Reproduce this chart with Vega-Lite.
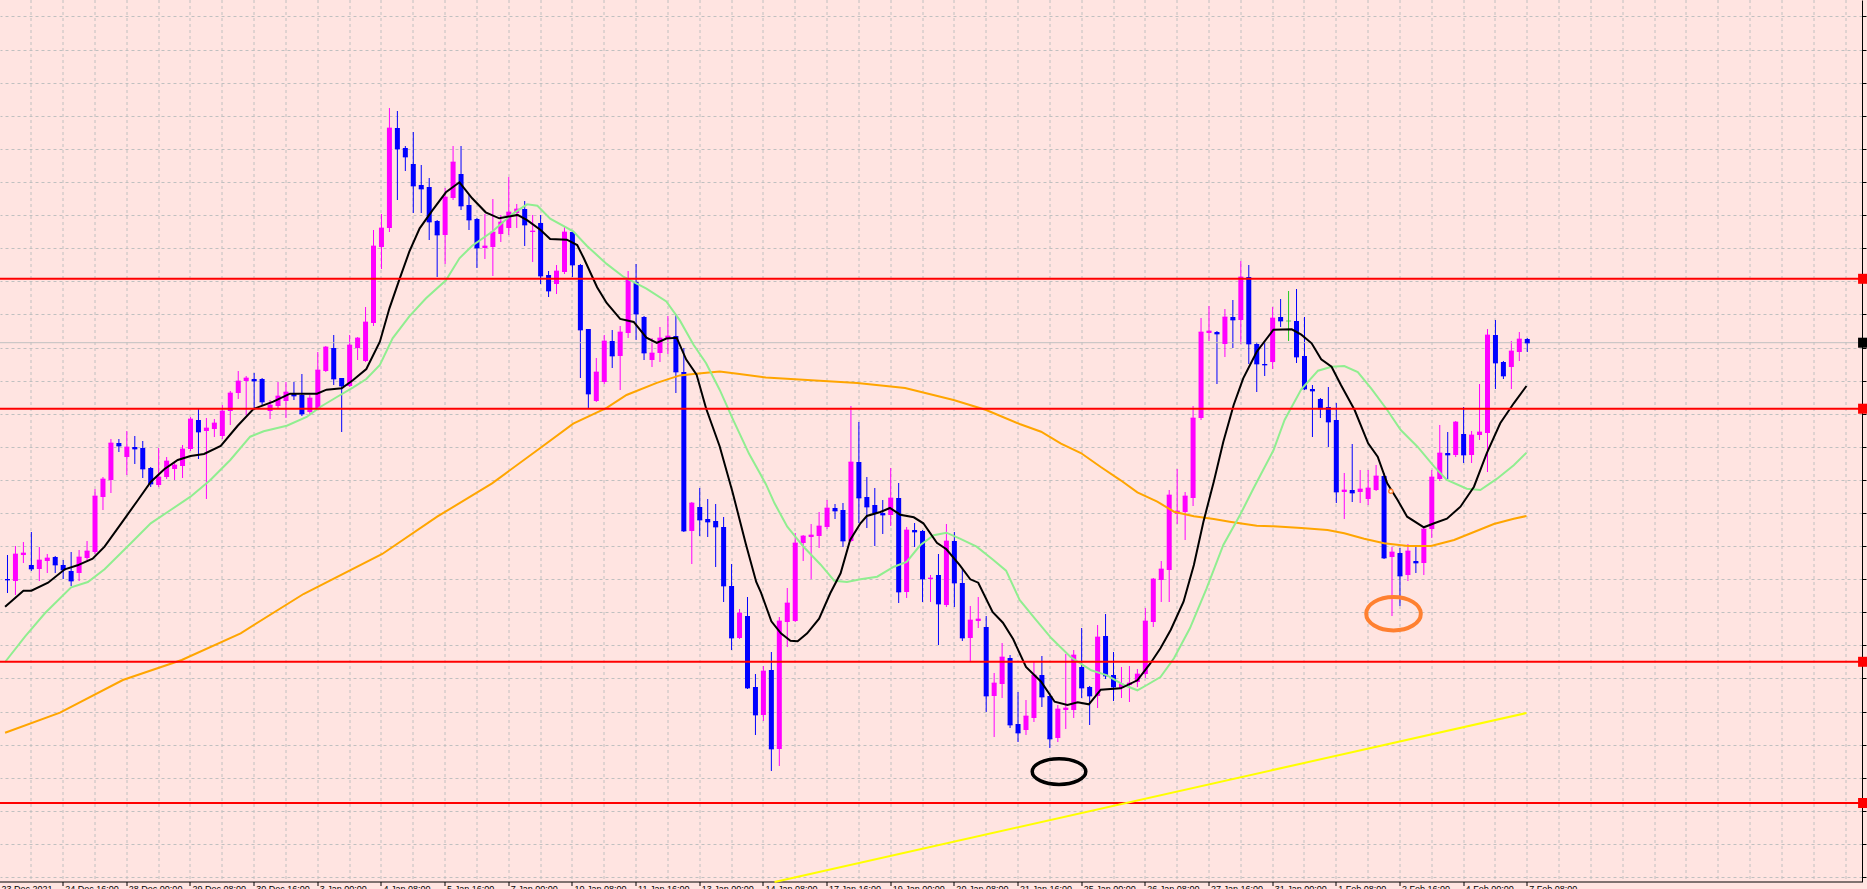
{
"$schema": "https://vega.github.io/schema/vega-lite/v6.json",
"width": 1862, "height": 882,
"autosize": {"type": "none"},
"padding": {"left": 0, "top": 0, "right": 5, "bottom": 7},
"background": "#FFE4E1",
"config": {"view": {"stroke": null}},
"datasets": {
"candles": [
{"i":1,"o":1.3310,"h":1.3334,"l":1.3296,"c":1.3309},
{"i":2,"o":1.3308,"h":1.3343,"l":1.3294,"c":1.3335},
{"i":3,"o":1.3334,"h":1.3347,"l":1.3326,"c":1.3336},
{"i":4,"o":1.3324,"h":1.3357,"l":1.3318,"c":1.3320},
{"i":5,"o":1.3320,"h":1.3342,"l":1.3308,"c":1.3329},
{"i":6,"o":1.3328,"h":1.3335,"l":1.3316,"c":1.3331},
{"i":7,"o":1.3332,"h":1.3333,"l":1.3316,"c":1.3324},
{"i":8,"o":1.3324,"h":1.3329,"l":1.3310,"c":1.3319},
{"i":9,"o":1.3318,"h":1.3337,"l":1.3303,"c":1.3308},
{"i":10,"o":1.3316,"h":1.3339,"l":1.3308,"c":1.3332},
{"i":11,"o":1.3331,"h":1.3348,"l":1.3329,"c":1.3338},
{"i":12,"o":1.3337,"h":1.3400,"l":1.3335,"c":1.3393},
{"i":13,"o":1.3392,"h":1.3412,"l":1.3379,"c":1.3410},
{"i":14,"o":1.3409,"h":1.3450,"l":1.3396,"c":1.3446},
{"i":15,"o":1.3446,"h":1.3450,"l":1.3437,"c":1.3443},
{"i":16,"o":1.3432,"h":1.3458,"l":1.3414,"c":1.3442},
{"i":17,"o":1.3442,"h":1.3453,"l":1.3425,"c":1.3440},
{"i":18,"o":1.3441,"h":1.3448,"l":1.3411,"c":1.3420},
{"i":19,"o":1.3421,"h":1.3422,"l":1.3402,"c":1.3405},
{"i":20,"o":1.3404,"h":1.3441,"l":1.3402,"c":1.3412},
{"i":21,"o":1.3412,"h":1.3432,"l":1.3410,"c":1.3428},
{"i":22,"o":1.3420,"h":1.3428,"l":1.3409,"c":1.3424},
{"i":23,"o":1.3423,"h":1.3444,"l":1.3411,"c":1.3440},
{"i":24,"o":1.3440,"h":1.3472,"l":1.3438,"c":1.3470},
{"i":25,"o":1.3469,"h":1.3480,"l":1.3430,"c":1.3457},
{"i":26,"o":1.3458,"h":1.3471,"l":1.3390,"c":1.3461},
{"i":27,"o":1.3460,"h":1.3470,"l":1.3452,"c":1.3466},
{"i":28,"o":1.3453,"h":1.3484,"l":1.3450,"c":1.3478},
{"i":29,"o":1.3478,"h":1.3498,"l":1.3464,"c":1.3496},
{"i":30,"o":1.3496,"h":1.3518,"l":1.3490,"c":1.3508},
{"i":31,"o":1.3508,"h":1.3513,"l":1.3474,"c":1.3511},
{"i":32,"o":1.3510,"h":1.3516,"l":1.3479,"c":1.3508},
{"i":33,"o":1.3510,"h":1.3511,"l":1.3484,"c":1.3487},
{"i":34,"o":1.3478,"h":1.3489,"l":1.3470,"c":1.3484},
{"i":35,"o":1.3483,"h":1.3507,"l":1.3481,"c":1.3493},
{"i":36,"o":1.3488,"h":1.3507,"l":1.3471,"c":1.3497},
{"i":37,"o":1.3495,"h":1.3507,"l":1.3489,"c":1.3493},
{"i":38,"o":1.3494,"h":1.3515,"l":1.3473,"c":1.3475},
{"i":39,"o":1.3477,"h":1.3494,"l":1.3475,"c":1.3491},
{"i":40,"o":1.3481,"h":1.3537,"l":1.3480,"c":1.3519},
{"i":41,"o":1.3518,"h":1.3543,"l":1.3517,"c":1.3542},
{"i":42,"o":1.3541,"h":1.3554,"l":1.3504,"c":1.3510},
{"i":43,"o":1.3511,"h":1.3511,"l":1.3457,"c":1.3503},
{"i":44,"o":1.3503,"h":1.3554,"l":1.3502,"c":1.3544},
{"i":45,"o":1.3541,"h":1.3552,"l":1.3529,"c":1.3551},
{"i":46,"o":1.3528,"h":1.3582,"l":1.3527,"c":1.3567},
{"i":47,"o":1.3566,"h":1.3659,"l":1.3563,"c":1.3643},
{"i":48,"o":1.3642,"h":1.3675,"l":1.3620,"c":1.3661},
{"i":49,"o":1.3661,"h":1.3781,"l":1.3657,"c":1.3761},
{"i":50,"o":1.3761,"h":1.3778,"l":1.3689,"c":1.3740},
{"i":51,"o":1.3741,"h":1.3743,"l":1.3718,"c":1.3732},
{"i":52,"o":1.3725,"h":1.3757,"l":1.3676,"c":1.3703},
{"i":53,"o":1.3704,"h":1.3724,"l":1.3676,"c":1.3700},
{"i":54,"o":1.3702,"h":1.3711,"l":1.3649,"c":1.3667},
{"i":55,"o":1.3668,"h":1.3669,"l":1.3612,"c":1.3654},
{"i":56,"o":1.3654,"h":1.3701,"l":1.3625,"c":1.3692},
{"i":57,"o":1.3691,"h":1.3743,"l":1.3689,"c":1.3727},
{"i":58,"o":1.3715,"h":1.3743,"l":1.3679,"c":1.3683},
{"i":59,"o":1.3684,"h":1.3694,"l":1.3659,"c":1.3669},
{"i":60,"o":1.3670,"h":1.3671,"l":1.3621,"c":1.3641},
{"i":61,"o":1.3641,"h":1.3675,"l":1.3630,"c":1.3643},
{"i":62,"o":1.3642,"h":1.3690,"l":1.3613,"c":1.3657},
{"i":63,"o":1.3655,"h":1.3674,"l":1.3647,"c":1.3667},
{"i":64,"o":1.3661,"h":1.3712,"l":1.3654,"c":1.3677},
{"i":65,"o":1.3676,"h":1.3685,"l":1.3661,"c":1.3680},
{"i":66,"o":1.3680,"h":1.3688,"l":1.3643,"c":1.3664},
{"i":67,"o":1.3657,"h":1.3674,"l":1.3627,"c":1.3658},
{"i":68,"o":1.3666,"h":1.3674,"l":1.3605,"c":1.3613},
{"i":69,"o":1.3614,"h":1.3618,"l":1.3592,"c":1.3598},
{"i":70,"o":1.3605,"h":1.3624,"l":1.3595,"c":1.3618},
{"i":71,"o":1.3617,"h":1.3663,"l":1.3615,"c":1.3657},
{"i":72,"o":1.3657,"h":1.3658,"l":1.3612,"c":1.3624},
{"i":73,"o":1.3624,"h":1.3625,"l":1.3511,"c":1.3559},
{"i":74,"o":1.3560,"h":1.3560,"l":1.3481,"c":1.3495},
{"i":75,"o":1.3488,"h":1.3531,"l":1.3487,"c":1.3517},
{"i":76,"o":1.3507,"h":1.3554,"l":1.3505,"c":1.3548},
{"i":77,"o":1.3548,"h":1.3559,"l":1.3521,"c":1.3533},
{"i":78,"o":1.3533,"h":1.3563,"l":1.3499,"c":1.3557},
{"i":79,"o":1.3556,"h":1.3618,"l":1.3551,"c":1.3609},
{"i":80,"o":1.3607,"h":1.3625,"l":1.3549,"c":1.3575},
{"i":81,"o":1.3572,"h":1.3573,"l":1.3529,"c":1.3536},
{"i":82,"o":1.3529,"h":1.3551,"l":1.3522,"c":1.3536},
{"i":83,"o":1.3536,"h":1.3562,"l":1.3527,"c":1.3551},
{"i":84,"o":1.3551,"h":1.3573,"l":1.3535,"c":1.3553},
{"i":85,"o":1.3553,"h":1.3575,"l":1.3496,"c":1.3517},
{"i":86,"o":1.3517,"h":1.3541,"l":1.3357,"c":1.3358},
{"i":87,"o":1.3358,"h":1.3387,"l":1.3325,"c":1.3386},
{"i":88,"o":1.3382,"h":1.3401,"l":1.3353,"c":1.3369},
{"i":89,"o":1.3370,"h":1.3390,"l":1.3352,"c":1.3367},
{"i":90,"o":1.3368,"h":1.3385,"l":1.3322,"c":1.3362},
{"i":91,"o":1.3362,"h":1.3372,"l":1.3287,"c":1.3303},
{"i":92,"o":1.3303,"h":1.3325,"l":1.3239,"c":1.3251},
{"i":93,"o":1.3251,"h":1.3280,"l":1.3250,"c":1.3276},
{"i":94,"o":1.3273,"h":1.3292,"l":1.3200,"c":1.3201},
{"i":95,"o":1.3202,"h":1.3215,"l":1.3154,"c":1.3174},
{"i":96,"o":1.3174,"h":1.3223,"l":1.3168,"c":1.3218},
{"i":97,"o":1.3219,"h":1.3237,"l":1.3118,"c":1.3140},
{"i":98,"o":1.3140,"h":1.3272,"l":1.3123,"c":1.3268},
{"i":99,"o":1.3267,"h":1.3301,"l":1.3242,"c":1.3286},
{"i":100,"o":1.3268,"h":1.3356,"l":1.3267,"c":1.3346},
{"i":101,"o":1.3346,"h":1.3354,"l":1.3328,"c":1.3353},
{"i":102,"o":1.3352,"h":1.3365,"l":1.3310,"c":1.3354},
{"i":103,"o":1.3353,"h":1.3377,"l":1.3341,"c":1.3363},
{"i":104,"o":1.3362,"h":1.3389,"l":1.3360,"c":1.3381},
{"i":105,"o":1.3381,"h":1.3385,"l":1.3370,"c":1.3378},
{"i":106,"o":1.3379,"h":1.3386,"l":1.3342,"c":1.3348},
{"i":107,"o":1.3348,"h":1.3483,"l":1.3347,"c":1.3427},
{"i":108,"o":1.3427,"h":1.3467,"l":1.3366,"c":1.3391},
{"i":109,"o":1.3392,"h":1.3412,"l":1.3361,"c":1.3382},
{"i":110,"o":1.3384,"h":1.3401,"l":1.3343,"c":1.3376},
{"i":111,"o":1.3376,"h":1.3389,"l":1.3355,"c":1.3374},
{"i":112,"o":1.3374,"h":1.3421,"l":1.3363,"c":1.3391},
{"i":113,"o":1.3391,"h":1.3406,"l":1.3286,"c":1.3297},
{"i":114,"o":1.3297,"h":1.3362,"l":1.3291,"c":1.3359},
{"i":115,"o":1.3359,"h":1.3366,"l":1.3342,"c":1.3357},
{"i":116,"o":1.3358,"h":1.3359,"l":1.3287,"c":1.3310},
{"i":117,"o":1.3310,"h":1.3314,"l":1.3287,"c":1.3311},
{"i":118,"o":1.3314,"h":1.3335,"l":1.3244,"c":1.3285},
{"i":119,"o":1.3284,"h":1.3365,"l":1.3282,"c":1.3348},
{"i":120,"o":1.3348,"h":1.3357,"l":1.3282,"c":1.3306},
{"i":121,"o":1.3306,"h":1.3320,"l":1.3248,"c":1.3251},
{"i":122,"o":1.3251,"h":1.3283,"l":1.3228,"c":1.3269},
{"i":123,"o":1.3268,"h":1.3292,"l":1.3261,"c":1.3270},
{"i":124,"o":1.3262,"h":1.3273,"l":1.3177,"c":1.3193},
{"i":125,"o":1.3193,"h":1.3216,"l":1.3152,"c":1.3206},
{"i":126,"o":1.3205,"h":1.3246,"l":1.3191,"c":1.3232},
{"i":127,"o":1.3231,"h":1.3234,"l":1.3161,"c":1.3164},
{"i":128,"o":1.3165,"h":1.3197,"l":1.3147,"c":1.3156},
{"i":129,"o":1.3159,"h":1.3189,"l":1.3154,"c":1.3173},
{"i":130,"o":1.3171,"h":1.3227,"l":1.3167,"c":1.3214},
{"i":131,"o":1.3214,"h":1.3233,"l":1.3182,"c":1.3192},
{"i":132,"o":1.3193,"h":1.3196,"l":1.3141,"c":1.3150},
{"i":133,"o":1.3151,"h":1.3184,"l":1.3147,"c":1.3180},
{"i":134,"o":1.3179,"h":1.3235,"l":1.3160,"c":1.3181},
{"i":135,"o":1.3179,"h":1.3239,"l":1.3171,"c":1.3234},
{"i":136,"o":1.3222,"h":1.3261,"l":1.3191,"c":1.3201},
{"i":137,"o":1.3202,"h":1.3203,"l":1.3164,"c":1.3193},
{"i":138,"o":1.3193,"h":1.3264,"l":1.3181,"c":1.3252},
{"i":139,"o":1.3253,"h":1.3275,"l":1.3210,"c":1.3213},
{"i":140,"o":1.3214,"h":1.3237,"l":1.3188,"c":1.3202},
{"i":141,"o":1.3201,"h":1.3222,"l":1.3191,"c":1.3205},
{"i":142,"o":1.3204,"h":1.3223,"l":1.3187,"c":1.3206},
{"i":143,"o":1.3207,"h":1.3220,"l":1.3202,"c":1.3215},
{"i":144,"o":1.3215,"h":1.3281,"l":1.3211,"c":1.3268},
{"i":145,"o":1.3267,"h":1.3311,"l":1.3262,"c":1.3310},
{"i":146,"o":1.3309,"h":1.3328,"l":1.3287,"c":1.3320},
{"i":147,"o":1.3319,"h":1.3399,"l":1.3287,"c":1.3394},
{"i":148,"o":1.3375,"h":1.3420,"l":1.3365,"c":1.3378},
{"i":149,"o":1.3377,"h":1.3397,"l":1.3349,"c":1.3393},
{"i":150,"o":1.3391,"h":1.3483,"l":1.3383,"c":1.3471},
{"i":151,"o":1.3471,"h":1.3571,"l":1.3469,"c":1.3557},
{"i":152,"o":1.3556,"h":1.3583,"l":1.3548,"c":1.3558},
{"i":153,"o":1.3557,"h":1.3558,"l":1.3505,"c":1.3555},
{"i":154,"o":1.3545,"h":1.3580,"l":1.3532,"c":1.3572},
{"i":155,"o":1.3572,"h":1.3589,"l":1.3541,"c":1.3569},
{"i":156,"o":1.3569,"h":1.3628,"l":1.3545,"c":1.3612},
{"i":157,"o":1.3612,"h":1.3624,"l":1.3525,"c":1.3545},
{"i":158,"o":1.3545,"h":1.3547,"l":1.3497,"c":1.3525},
{"i":159,"o":1.3525,"h":1.3547,"l":1.3513,"c":1.3524},
{"i":160,"o":1.3527,"h":1.3582,"l":1.3520,"c":1.3571},
{"i":161,"o":1.3572,"h":1.3590,"l":1.3562,"c":1.3568},
{"i":162,"o":1.3568,"h":1.3598,"l":1.3548,"c":1.3568},
{"i":163,"o":1.3568,"h":1.3600,"l":1.3526,"c":1.3532},
{"i":164,"o":1.3533,"h":1.3572,"l":1.3499,"c":1.3500},
{"i":165,"o":1.3500,"h":1.3504,"l":1.3452,"c":1.3498},
{"i":166,"o":1.3490,"h":1.3491,"l":1.3471,"c":1.3480},
{"i":167,"o":1.3482,"h":1.3502,"l":1.3442,"c":1.3467},
{"i":168,"o":1.3469,"h":1.3486,"l":1.3386,"c":1.3397},
{"i":169,"o":1.3397,"h":1.3416,"l":1.3370,"c":1.3399},
{"i":170,"o":1.3399,"h":1.3445,"l":1.3387,"c":1.3396},
{"i":171,"o":1.3397,"h":1.3419,"l":1.3386,"c":1.3400},
{"i":172,"o":1.3390,"h":1.3419,"l":1.3384,"c":1.3401},
{"i":173,"o":1.3399,"h":1.3424,"l":1.3398,"c":1.3413},
{"i":174,"o":1.3413,"h":1.3416,"l":1.3330,"c":1.3331},
{"i":175,"o":1.3332,"h":1.3342,"l":1.3273,"c":1.3337},
{"i":176,"o":1.3336,"h":1.3341,"l":1.3283,"c":1.3313},
{"i":177,"o":1.3314,"h":1.3345,"l":1.3308,"c":1.3338},
{"i":178,"o":1.3328,"h":1.3344,"l":1.3316,"c":1.3326},
{"i":179,"o":1.3326,"h":1.3362,"l":1.3314,"c":1.3360},
{"i":180,"o":1.3360,"h":1.3419,"l":1.3351,"c":1.3412},
{"i":181,"o":1.3410,"h":1.3464,"l":1.3408,"c":1.3436},
{"i":182,"o":1.3436,"h":1.3457,"l":1.3410,"c":1.3434},
{"i":183,"o":1.3434,"h":1.3468,"l":1.3432,"c":1.3467},
{"i":184,"o":1.3455,"h":1.3482,"l":1.3426,"c":1.3434},
{"i":185,"o":1.3434,"h":1.3458,"l":1.3426,"c":1.3454},
{"i":186,"o":1.3454,"h":1.3505,"l":1.3449,"c":1.3457},
{"i":187,"o":1.3456,"h":1.3560,"l":1.3417,"c":1.3554},
{"i":188,"o":1.3554,"h":1.3569,"l":1.3500,"c":1.3526},
{"i":189,"o":1.3527,"h":1.3528,"l":1.3510,"c":1.3513},
{"i":190,"o":1.3522,"h":1.3548,"l":1.3500,"c":1.3538},
{"i":191,"o":1.3537,"h":1.3557,"l":1.3528,"c":1.3550},
{"i":192,"o":1.3550,"h":1.3551,"l":1.3537,"c":1.3546}
],
"black": [
{"i":0.7,"p":1.32823},{"i":3.0,"p":1.32983},{"i":4.0,"p":1.32983},{"i":6.1,"p":1.33063},{"i":8.2,"p":1.33197},{"i":9.8,"p":1.33237},{"i":11.7,"p":1.33303},{"i":13.2,"p":1.33423},{"i":15.3,"p":1.33657},{"i":17.4,"p":1.3389},{"i":19.0,"p":1.3407},{"i":20.7,"p":1.34197},{"i":22.4,"p":1.3429},{"i":24.0,"p":1.3433},{"i":25.7,"p":1.3435},{"i":27.8,"p":1.3443},{"i":29.9,"p":1.3463},{"i":31.9,"p":1.3480},{"i":34.4,"p":1.34873},{"i":36.5,"p":1.34953},{"i":39.9,"p":1.34953},{"i":41.1,"p":1.34993},{"i":43.0,"p":1.35007},{"i":44.4,"p":1.35087},{"i":46.1,"p":1.3520},{"i":47.8,"p":1.35473},{"i":49.0,"p":1.35807},{"i":50.3,"p":1.36107},{"i":51.5,"p":1.36373},{"i":52.8,"p":1.36607},{"i":54.4,"p":1.36787},{"i":56.1,"p":1.36967},{"i":57.8,"p":1.37067},{"i":59.4,"p":1.36907},{"i":61.1,"p":1.36767},{"i":62.8,"p":1.36707},{"i":64.4,"p":1.3673},{"i":65.1,"p":1.36741},{"i":66.3,"p":1.36689},{"i":68.0,"p":1.3659},{"i":69.2,"p":1.3650},{"i":71.3,"p":1.36493},{"i":72.6,"p":1.3644},{"i":73.4,"p":1.36312},{"i":75.1,"p":1.36018},{"i":76.3,"p":1.3586},{"i":78.0,"p":1.35701},{"i":79.7,"p":1.35671},{"i":81.3,"p":1.35513},{"i":82.6,"p":1.3546},{"i":83.8,"p":1.35505},{"i":85.1,"p":1.35513},{"i":86.3,"p":1.35294},{"i":87.6,"p":1.35144},{"i":88.8,"p":1.34805},{"i":90.5,"p":1.34428},{"i":92.1,"p":1.33976},{"i":93.8,"p":1.33448},{"i":95.1,"p":1.33071},{"i":95.7,"p":1.32963},{"i":97.0,"p":1.32677},{"i":98.2,"p":1.32557},{"i":99.4,"p":1.32483},{"i":100.3,"p":1.32477},{"i":101.5,"p":1.32557},{"i":103.0,"p":1.32703},{"i":104.4,"p":1.32957},{"i":105.7,"p":1.33157},{"i":106.9,"p":1.3349},{"i":108.2,"p":1.33657},{"i":109.0,"p":1.3373},{"i":110.7,"p":1.3377},{"i":111.9,"p":1.3381},{"i":113.2,"p":1.33743},{"i":114.9,"p":1.33717},{"i":116.1,"p":1.33657},{"i":117.8,"p":1.33463},{"i":119.0,"p":1.33397},{"i":120.7,"p":1.33237},{"i":122.0,"p":1.33097},{"i":123.0,"p":1.33063},{"i":124.8,"p":1.3277},{"i":126.1,"p":1.32663},{"i":127.4,"p":1.32497},{"i":129.0,"p":1.3222},{"i":130.9,"p":1.32073},{"i":132.6,"p":1.31873},{"i":134.2,"p":1.3184},{"i":135.5,"p":1.31867},{"i":136.9,"p":1.31847},{"i":138.4,"p":1.31993},{"i":140.9,"p":1.32007},{"i":143.0,"p":1.32087},{"i":144.6,"p":1.32253},{"i":145.9,"p":1.32407},{"i":147.2,"p":1.32593},{"i":148.8,"p":1.32873},{"i":150.1,"p":1.3324},{"i":151.3,"p":1.33673},{"i":152.6,"p":1.34073},{"i":153.8,"p":1.34473},{"i":155.1,"p":1.3484},{"i":156.3,"p":1.35107},{"i":158.0,"p":1.35373},{"i":160.1,"p":1.35593},{"i":162.4,"p":1.35597},{"i":163.6,"p":1.35543},{"i":164.9,"p":1.35457},{"i":166.1,"p":1.35297},{"i":167.4,"p":1.35223},{"i":168.6,"p":1.35037},{"i":170.3,"p":1.3479},{"i":172.0,"p":1.34457},{"i":173.2,"p":1.34323},{"i":174.4,"p":1.34057},{"i":175.7,"p":1.3389},{"i":176.9,"p":1.33723},{"i":179.0,"p":1.33617},{"i":180.3,"p":1.33657},{"i":181.9,"p":1.33703},{"i":183.6,"p":1.33823},{"i":185.3,"p":1.34023},{"i":186.9,"p":1.34357},{"i":188.6,"p":1.34657},{"i":190.3,"p":1.34857},{"i":191.9,"p":1.3503}
],
"green": [
{"i":0.7,"p":1.3227},{"i":3.2,"p":1.32523},{"i":5.7,"p":1.32757},{"i":9.0,"p":1.33017},{"i":11.1,"p":1.3307},{"i":13.2,"p":1.33197},{"i":16.5,"p":1.33457},{"i":19.0,"p":1.33657},{"i":21.5,"p":1.3379},{"i":24.0,"p":1.33923},{"i":26.5,"p":1.3409},{"i":29.0,"p":1.3429},{"i":31.5,"p":1.34523},{"i":33.2,"p":1.34577},{"i":36.1,"p":1.34633},{"i":38.6,"p":1.3472},{"i":40.3,"p":1.3482},{"i":42.4,"p":1.3492},{"i":44.4,"p":1.35013},{"i":46.1,"p":1.3510},{"i":47.8,"p":1.3524},{"i":49.4,"p":1.35507},{"i":51.5,"p":1.35727},{"i":53.6,"p":1.35907},{"i":56.1,"p":1.36087},{"i":57.8,"p":1.36307},{"i":59.4,"p":1.36433},{"i":61.9,"p":1.36573},{"i":64.4,"p":1.36747},{"i":66.3,"p":1.36847},{"i":67.6,"p":1.36832},{"i":69.2,"p":1.36704},{"i":72.1,"p":1.36576},{"i":73.8,"p":1.36432},{"i":76.3,"p":1.36251},{"i":78.4,"p":1.36123},{"i":81.3,"p":1.36003},{"i":83.8,"p":1.35875},{"i":85.5,"p":1.35686},{"i":87.2,"p":1.35445},{"i":88.8,"p":1.35257},{"i":90.5,"p":1.34993},{"i":92.2,"p":1.34692},{"i":94.2,"p":1.34352},{"i":96.3,"p":1.34051},{"i":97.4,"p":1.33857},{"i":99.0,"p":1.33623},{"i":101.1,"p":1.33417},{"i":103.2,"p":1.33243},{"i":104.9,"p":1.33083},{"i":106.5,"p":1.3307},{"i":108.2,"p":1.33097},{"i":110.3,"p":1.33123},{"i":112.4,"p":1.33223},{"i":114.0,"p":1.3327},{"i":115.7,"p":1.33437},{"i":117.4,"p":1.33537},{"i":119.0,"p":1.33563},{"i":120.7,"p":1.33503},{"i":122.8,"p":1.33423},{"i":124.9,"p":1.3329},{"i":126.5,"p":1.33183},{"i":128.2,"p":1.3289},{"i":130.1,"p":1.32707},{"i":132.2,"p":1.32507},{"i":134.6,"p":1.3232},{"i":137.2,"p":1.32187},{"i":139.2,"p":1.32137},{"i":141.3,"p":1.3204},{"i":143.0,"p":1.31987},{"i":144.2,"p":1.3204},{"i":145.9,"p":1.3212},{"i":147.6,"p":1.32307},{"i":149.6,"p":1.32607},{"i":151.7,"p":1.33007},{"i":153.8,"p":1.3344},{"i":155.9,"p":1.3374},{"i":157.6,"p":1.34007},{"i":160.1,"p":1.34387},{"i":161.5,"p":1.3469},{"i":163.6,"p":1.34997},{"i":165.7,"p":1.35183},{"i":167.4,"p":1.35223},{"i":169.0,"p":1.3523},{"i":170.7,"p":1.3517},{"i":172.4,"p":1.35003},{"i":174.4,"p":1.3479},{"i":176.1,"p":1.3459},{"i":178.2,"p":1.34423},{"i":180.3,"p":1.34223},{"i":181.9,"p":1.3409},{"i":184.4,"p":1.34003},{"i":186.1,"p":1.3399},{"i":188.2,"p":1.34103},{"i":190.3,"p":1.34237},{"i":191.9,"p":1.34363}
],
"orange": [
{"i":0.7,"p":1.31563},{"i":7.6,"p":1.31763},{"i":15.5,"p":1.3209},{"i":22.9,"p":1.3229},{"i":30.3,"p":1.32557},{"i":38.2,"p":1.3295},{"i":48.1,"p":1.3335},{"i":55.0,"p":1.33723},{"i":61.9,"p":1.34057},{"i":68.0,"p":1.34413},{"i":72.1,"p":1.34654},{"i":76.3,"p":1.34812},{"i":78.8,"p":1.3494},{"i":82.6,"p":1.35061},{"i":85.5,"p":1.35136},{"i":87.2,"p":1.35151},{"i":90.5,"p":1.35174},{"i":93.0,"p":1.35151},{"i":96.3,"p":1.35114},{"i":107.8,"p":1.3506},{"i":113.8,"p":1.3501},{"i":119.9,"p":1.3489},{"i":124.0,"p":1.3479},{"i":128.2,"p":1.3465},{"i":130.9,"p":1.34573},{"i":133.4,"p":1.34453},{"i":135.9,"p":1.3436},{"i":138.4,"p":1.3422},{"i":140.9,"p":1.34087},{"i":143.0,"p":1.33967},{"i":145.5,"p":1.33873},{"i":147.6,"p":1.33773},{"i":150.1,"p":1.33727},{"i":152.6,"p":1.337},{"i":154.6,"p":1.33673},{"i":158.0,"p":1.33633},{"i":160.1,"p":1.33627},{"i":163.6,"p":1.3361},{"i":166.9,"p":1.3359},{"i":169.0,"p":1.33557},{"i":171.5,"p":1.33503},{"i":174.0,"p":1.33457},{"i":177.0,"p":1.3343},{"i":179.9,"p":1.3343},{"i":182.8,"p":1.3349},{"i":185.3,"p":1.3357},{"i":187.8,"p":1.3365},{"i":190.3,"p":1.33703},{"i":191.9,"p":1.3373}
],
"trend": [{"i":97.4,"p":1.3007},{"i":191.9,"p":1.3176}],
"levels": [{"p":1.36102},{"p":1.34803},{"p":1.32272},{"p":1.3086}],
"bid": [{"p":1.35463}],
"ring1": [{"i":133.15,"p":1.31174}],
"ring2": [{"i":175.19,"p":1.32753}],
"dot": [{"i":174.85,"p":1.33977}],
"firstlabel": [{"i":0,"p":1.30037,"t":"23 Dec 2021"}]
},
"layer": [
{
"data": {"name": "candles"},
"mark": {"type": "rule", "strokeWidth": 1},
"encoding": {
"x": {"field": "i", "type": "quantitative", "scale": {"domain": [0.6875, 233.4375], "nice": false, "zero": false},
"axis": {"values": [4,8,12,16,20,24,28,32,36,40,44,48,52,56,60,64,68,72,76,80,84,88,92,96,100,104,108,112,116,120,124,128,132,136,140,144,148,152,156,160,164,168,172,176,180,184,188,192,196,200,204,208,212,216,220,224,228,232],
"tickCount": 1000,
"title": null, "translate": 0,
"grid": true, "gridColor": "#C0C0C0", "gridDash": [3,3], "gridWidth": 1,
"domain": true, "domainColor": "#000000", "domainWidth": 1,
"ticks": true, "tickColor": "#000000", "tickSize": 4, "tickWidth": 1,
"tickOpacity": {"condition": {"test": "datum.value % 8 === 0 && datum.value <= 192", "value": 1}, "value": 0},
"labelExpr": "datum.value % 8 === 0 && datum.value <= 192 ? ['23 Dec 2021','24 Dec 16:00','28 Dec 00:00','29 Dec 08:00','30 Dec 16:00','3 Jan 00:00','4 Jan 08:00','5 Jan 16:00','7 Jan 00:00','10 Jan 08:00','11 Jan 16:00','13 Jan 00:00','14 Jan 08:00','17 Jan 16:00','19 Jan 00:00','20 Jan 08:00','21 Jan 16:00','25 Jan 00:00','26 Jan 08:00','27 Jan 16:00','31 Jan 00:00','1 Feb 08:00','2 Feb 16:00','4 Feb 00:00','7 Feb 08:00'][datum.value / 8] : ''",
"labelAlign": "left", "labelBaseline": "top", "labelOffset": 2, "labelPadding": -0.7,
"labelFont": "Liberation Sans", "labelFontSize": 9, "labelColor": "#000000",
"labelOverlap": false, "labelBound": false, "labelFlush": false}},
"y": {"field": "l", "type": "quantitative", "scale": {"domain": [1.3007, 1.3889], "nice": false, "zero": false},
"axis": {"orient": "right", "title": null, "tickCount": 1000,
"values": [1.38725,1.38394,1.38063,1.37732,1.37401,1.3707,1.36739,1.36408,1.36077,1.35746,1.35415,1.35084,1.34753,1.34422,1.34091,1.3376,1.33429,1.33098,1.32767,1.32436,1.32105,1.31774,1.31443,1.31112,1.30781,1.3045,1.30119],
"grid": true, "gridColor": "#C0C0C0", "gridDash": [3,3], "gridWidth": 1,
"labels": false, "ticks": true, "tickSize": 4, "tickColor": "#000000",
"domain": true, "domainColor": "#000000", "domainWidth": 1}},
"y2": {"field": "h"},
"color": {"condition": [{"test": "datum.c == datum.o", "value": "#22CC22"}, {"test": "datum.c > datum.o", "value": "#FF00FF"}], "value": "#0000FF"}
}
},
{
"data": {"name": "bid"},
"mark": {"type": "rule", "color": "#C0C0C0", "strokeWidth": 1},
"encoding": {"y": {"field": "p", "type": "quantitative", "title": null}}
},
{
"data": {"name": "candles"},
"mark": {"type": "bar", "size": 5},
"encoding": {
"x": {"field": "i", "type": "quantitative", "title": null},
"y": {"field": "o", "type": "quantitative", "title": null},
"y2": {"field": "c"},
"color": {"condition": [{"test": "datum.c == datum.o", "value": "#22CC22"}, {"test": "datum.c > datum.o", "value": "#FF00FF"}], "value": "#0000FF"}
}
},
{
"data": {"name": "candles"},
"mark": {"type": "tick", "orient": "horizontal", "size": 5, "thickness": 1},
"encoding": {
"x": {"field": "i", "type": "quantitative", "title": null},
"y": {"field": "c", "type": "quantitative", "title": null},
"color": {"condition": [{"test": "datum.c == datum.o", "value": "#22CC22"}, {"test": "datum.c > datum.o", "value": "#FF00FF"}], "value": "#0000FF"}
}
},
{
"data": {"name": "orange"},
"mark": {"type": "line", "color": "#FFA500", "strokeWidth": 2},
"encoding": {
"x": {"field": "i", "type": "quantitative", "title": null},
"y": {"field": "p", "type": "quantitative", "title": null}
}
},
{
"data": {"name": "green"},
"mark": {"type": "line", "color": "#90EE90", "strokeWidth": 2},
"encoding": {
"x": {"field": "i", "type": "quantitative", "title": null},
"y": {"field": "p", "type": "quantitative", "title": null}
}
},
{
"data": {"name": "black"},
"mark": {"type": "line", "color": "#000000", "strokeWidth": 2},
"encoding": {
"x": {"field": "i", "type": "quantitative", "title": null},
"y": {"field": "p", "type": "quantitative", "title": null}
}
},
{
"data": {"name": "levels"},
"mark": {"type": "rule", "color": "#FF0000", "strokeWidth": 2},
"encoding": {"y": {"field": "p", "type": "quantitative", "title": null}}
},
{
"data": {"name": "trend"},
"mark": {"type": "line", "color": "#FFFF00", "strokeWidth": 2},
"encoding": {
"x": {"field": "i", "type": "quantitative", "title": null},
"y": {"field": "p", "type": "quantitative", "title": null}
}
},
{
"data": {"name": "ring1"},
"mark": {"type": "point", "shape": "M-1,0A1,0.478,0,1,1,1,0A1,0.478,0,1,1,-1,0Z", "size": 2873, "filled": false, "stroke": "#000000", "strokeWidth": 3.5, "opacity": 1},
"encoding": {
"x": {"field": "i", "type": "quantitative", "title": null},
"y": {"field": "p", "type": "quantitative", "title": null}
}
},
{
"data": {"name": "ring2"},
"mark": {"type": "point", "shape": "M-1,0A1,0.612,0,1,1,1,0A1,0.612,0,1,1,-1,0Z", "size": 2981, "filled": false, "stroke": "#FF8030", "strokeWidth": 4, "opacity": 1},
"encoding": {
"x": {"field": "i", "type": "quantitative", "title": null},
"y": {"field": "p", "type": "quantitative", "title": null}
}
},
{
"data": {"name": "dot"},
"mark": {"type": "point", "shape": "circle", "size": 30, "filled": true, "color": "#FF8030", "opacity": 1},
"encoding": {
"x": {"field": "i", "type": "quantitative", "title": null},
"y": {"field": "p", "type": "quantitative", "title": null}
}
},
{
"data": {"name": "dot"},
"mark": {"type": "point", "shape": "cross", "size": 8, "filled": true, "color": "#FFFFFF", "opacity": 1},
"encoding": {
"x": {"field": "i", "type": "quantitative", "title": null},
"y": {"field": "p", "type": "quantitative", "title": null}
}
},
{
"data": {"name": "levels"},
"mark": {"type": "point", "shape": "square", "size": 100, "filled": true, "color": "#FF0000", "opacity": 1, "clip": false},
"encoding": {
"x": {"datum": 234.2, "type": "quantitative", "title": null},
"y": {"field": "p", "type": "quantitative", "title": null}
}
},
{
"data": {"name": "bid"},
"mark": {"type": "point", "shape": "square", "size": 100, "filled": true, "color": "#000000", "opacity": 1, "clip": false},
"encoding": {
"x": {"datum": 234.2, "type": "quantitative", "title": null},
"y": {"field": "p", "type": "quantitative", "title": null}
}
},
{
"data": {"name": "firstlabel"},
"mark": {"type": "text", "align": "left", "baseline": "top", "dx": 2, "font": "Liberation Sans", "fontSize": 9, "color": "#000000", "clip": false},
"encoding": {
"x": {"field": "i", "type": "quantitative", "title": null},
"y": {"field": "p", "type": "quantitative", "title": null},
"text": {"field": "t"}
}
}
]
}
